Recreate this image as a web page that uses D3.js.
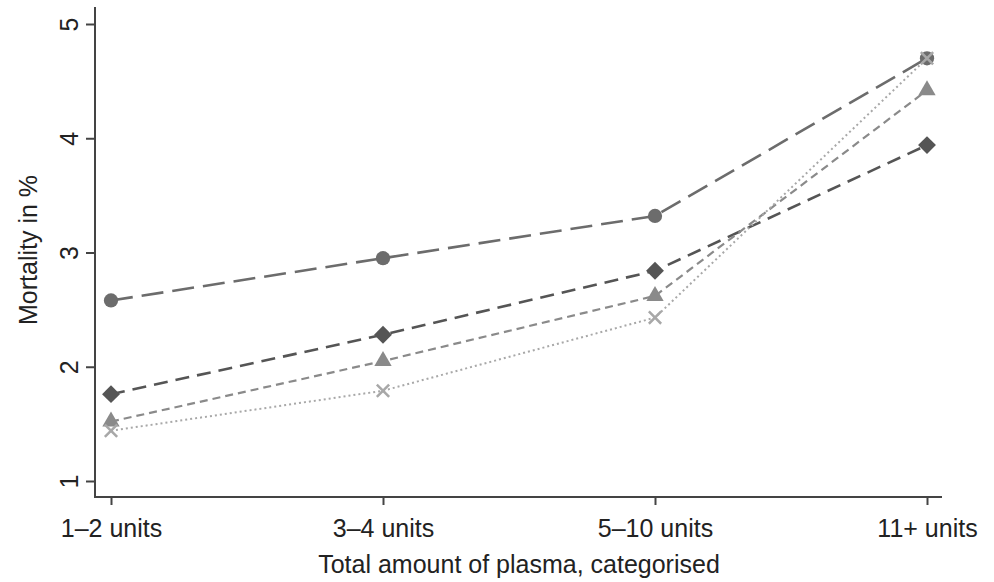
<!DOCTYPE html>
<html><head><meta charset="utf-8">
<script src="https://cdn.jsdelivr.net/npm/d3@7"></script>
<style>body{margin:0;background:#fff;} text{font-family:"Liberation Sans",Arial,sans-serif;}</style>
</head><body>
<svg id="c" width="994" height="582"></svg>
<script>
const categories = ["1\u20132 units","3\u20134 units","5\u201310 units","11+ units"];
const yTicks = [1,2,3,4,5];
const seriesCircle = [2.58, 2.95, 3.32, 4.70];
const seriesDiamond = [1.76, 2.28, 2.84, 3.94];
const seriesTriangle = [1.52, 2.05, 2.62, 4.42];
const seriesCross = [1.44, 1.79, 2.43, 4.70];

const series = [
  {name:"circle", values:seriesCircle, color:"#6c6c6c", dash:"22,9", width:2.6, sym:d3.symbolCircle, size:160, rot:0},
  {name:"diamond", values:seriesDiamond, color:"#555555", dash:"14,8", width:2.6, sym:d3.symbolSquare, size:160, rot:45},
  {name:"triangle", values:seriesTriangle, color:"#8a8a8a", dash:"8,5", width:2.2, sym:d3.symbolTriangle, size:130, rot:0},
  {name:"cross", values:seriesCross, color:"#a8a8a8", dash:"2,3", width:2, sym:d3.symbolX, size:100, rot:0}
];

const svg = d3.select("#c");
const x = d3.scalePoint().domain(categories).range([111, 927]);
const y = d3.scaleLinear().domain([1,5]).range([481, 24]);

const axisColor = "#444";
const fs = 25;
// y axis
const gy = svg.append("g").attr("transform","translate(95,0)")
  .call(d3.axisLeft(y).tickValues(yTicks).tickSize(9).tickPadding(6).tickFormat(d3.format("d")));
gy.select(".domain").attr("d","M0,7V497").attr("stroke",axisColor).attr("stroke-width",2);
gy.selectAll(".tick line").attr("stroke",axisColor).attr("stroke-width",2);
gy.selectAll(".tick text").attr("font-size",fs).attr("fill","#222")
  .attr("text-anchor","middle")
  .attr("transform","translate(-17,0) rotate(-90)").attr("x",0).attr("y",0).attr("dy","0");

// x axis
const gx = svg.append("g").attr("transform","translate(0,497)")
  .call(d3.axisBottom(x).tickSize(8).tickPadding(6));
gx.select(".domain").attr("d","M94,0H942").attr("stroke",axisColor).attr("stroke-width",2);
gx.selectAll(".tick line").attr("stroke",axisColor).attr("stroke-width",2);
gx.selectAll(".tick text").attr("font-size",fs).attr("fill","#222").attr("y",40).attr("dy","0");

svg.append("text").attr("x",519).attr("y",573).attr("text-anchor","middle")
  .attr("font-size",fs).attr("fill","#222").text("Total amount of plasma, categorised");
svg.append("text").attr("transform","translate(37,250) rotate(-90)").attr("text-anchor","middle")
  .attr("font-size",fs).attr("fill","#222").text("Mortality in %");

const line = d3.line().x((d,i)=>x(categories[i])).y(d=>y(d));
series.forEach(s=>{
  svg.append("path").attr("d",line(s.values)).attr("fill","none")
    .attr("stroke",s.color).attr("stroke-width",s.width).attr("stroke-dasharray",s.dash);
  svg.selectAll(null).data(s.values).enter().append("path")
    .attr("transform",(d,i)=>`translate(${x(categories[i])},${y(d)}) rotate(${s.rot})`)
    .attr("d",d3.symbol().type(s.sym).size(s.size))
    .attr("fill", s.name==="cross" ? "none" : s.color)
    .attr("stroke", s.color).attr("stroke-width", s.name==="cross"?2.5:0);
});
</script>
</body></html>
